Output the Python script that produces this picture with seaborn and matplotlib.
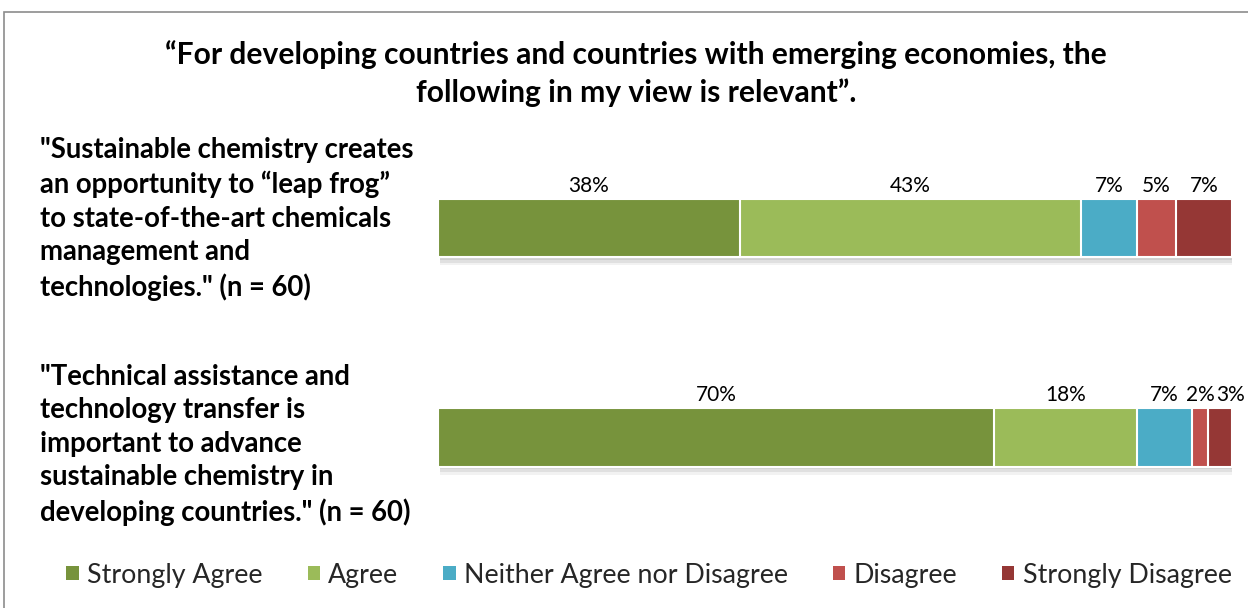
import matplotlib
matplotlib.use("Agg")
import matplotlib.pyplot as plt
import matplotlib.patheffects as pe
from matplotlib.patches import Rectangle, Patch
import seaborn as sns
import pandas as pd
import numpy as np

# ---- data ----
statements = [
    '"Sustainable chemistry creates\nan opportunity to \u201cleap frog\u201d\nto state-of-the-art chemicals\nmanagement and\ntechnologies." (n = 60)',
    '"Technical assistance and\ntechnology transfer is\nimportant to advance\nsustainable chemistry in\ndeveloping countries." (n = 60)',
]
responses = ["Strongly Agree", "Agree", "Neither Agree nor Disagree", "Disagree", "Strongly Disagree"]
strongly_agree = [38, 70]
agree = [43, 18]
neither = [7, 7]
disagree = [5, 2]
strongly_disagree = [7, 3]
colors = ["#77933C", "#9BBB59", "#4BACC6", "#C0504D", "#953735"]
title = "\u201cFor developing countries and countries with emerging economies, the\nfollowing in my view is relevant\u201d."

sns.set_theme(style="white")
plt.rcParams["font.family"] = ["Lato", "DejaVu Sans"]

W, H = 1248, 608
fig = plt.figure(figsize=(W / 100, H / 100), dpi=100)

# axes placement in pixels
ax_l, ax_r = 438, 1232
ax_t, ax_b = 130, 530
ax = fig.add_axes([ax_l / W, 1 - ax_b / H, (ax_r - ax_l) / W, (ax_b - ax_t) / H])

vals = np.array([strongly_agree, agree, neither, disagree, strongly_disagree], dtype=float)
cum = vals.cumsum(axis=0)
keys = [f"s{i}" for i in range(len(statements))]

bar_h = 0.277
shadow = [pe.SimplePatchShadow(offset=(1.5, -2), shadow_rgbFace="#808080", alpha=0.18),
          pe.SimplePatchShadow(offset=(1.5, -4), shadow_rgbFace="#808080", alpha=0.15),
          pe.SimplePatchShadow(offset=(1.5, -6), shadow_rgbFace="#808080", alpha=0.10),
          pe.Normal()]
# draw from the longest cumulative bar to the shortest so segments stack
for k in range(len(responses) - 1, -1, -1):
    df = pd.DataFrame({"stmt": keys, "end": cum[k]})
    sns.barplot(data=df, x="end", y="stmt", order=keys, orient="h", color=colors[k],
                saturation=1, width=bar_h, edgecolor="white", linewidth=1.5, ax=ax)

n = len(statements)
for p in ax.patches[:n]:
    p.set_path_effects(shadow)

sep_px = 209.5
c0 = 228
ax.set_ylim(1 + (ax_b - 437.5) / sep_px, -(c0 - ax_t) / sep_px)
ax.set_xlim(0, 100)
ax.axis("off")

# percent labels (nudged right when they would collide)
renderer = fig.canvas.get_renderer()
for i in range(n):
    prev_right = None
    for k in range(len(responses)):
        start = cum[k][i] - vals[k][i]
        xc = start + vals[k][i] / 2
        t = ax.text(xc, i - bar_h / 2 - 0.015, f"{int(vals[k][i])}%", ha="center", va="bottom",
                    fontsize=15, color="#000000")
        bb = t.get_window_extent(renderer)
        if prev_right is not None and bb.x0 < prev_right + 2:
            shift = prev_right + 2 - bb.x0
            xd, yd = ax.transData.transform((xc, 0))
            t.set_x(ax.transData.inverted().transform((xd + shift, yd))[0])
            bb = t.get_window_extent(renderer)
        prev_right = bb.x1

# category labels
label_tops = [137, 364]
for lab, yt in zip(statements, label_tops):
    fig.text(40 / W, 1 - yt / H, lab, ha="left", va="top", fontsize=19.8, fontweight="bold",
             linespacing=1.35, color="#000000")

# title
fig.text(636 / W, 1 - 40 / H, title, ha="center", va="top", fontsize=21.6, fontweight="bold",
         linespacing=1.4, color="#000000")

# legend
handles = [Patch(facecolor=c, edgecolor="none") for c in colors]
fig.legend(handles, responses, loc="center", bbox_to_anchor=(649 / W, 1 - 575 / H), ncol=5,
           frameon=False, fontsize=19.3, handlelength=0.45, handleheight=0.45, handletextpad=0.3,
           columnspacing=1.7)

# outer frame
fig.patches.append(Rectangle((4 / W, -0.1), 1.2, 1 - 12 / H + 0.1, transform=fig.transFigure,
                             fill=False, edgecolor="#8c8c8c", linewidth=1.2))

fig.savefig("out.png", dpi=100)
